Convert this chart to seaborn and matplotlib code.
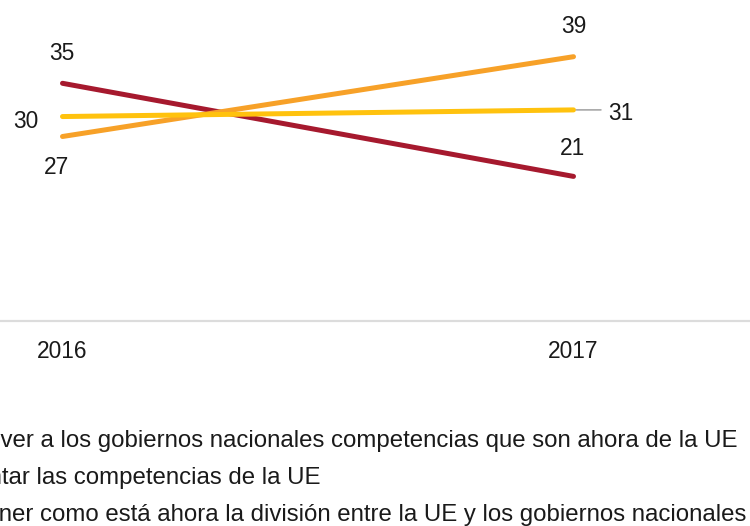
import matplotlib
matplotlib.use("Agg")
import matplotlib.pyplot as plt
import seaborn as sns
import pandas as pd

years = [2016, 2017]
series_names = [
    "Devolver a los gobiernos nacionales competencias que son ahora de la UE",
    "Aumentar las competencias de la UE",
    "Mantener como está ahora la división entre la UE y los gobiernos nacionales",
]
devolver = [35, 21]
aumentar = [27, 39]
mantener = [30, 31]
colors = ["#A6192E", "#F7A128", "#FFC20E"]

rows = []
for name, vals in zip(series_names, [devolver, aumentar, mantener]):
    for y, v in zip(years, vals):
        rows.append({"year": y, "value": v, "series": name})
df = pd.DataFrame(rows)

sns.set_theme(style="white")
plt.rcParams["font.family"] = ["Liberation Sans", "DejaVu Sans"]

W, H = 750, 526
fig = plt.figure(figsize=(W / 100, H / 100), dpi=100)
axis_px = 321
ax = fig.add_axes([0, (H - axis_px) / H, 1, axis_px / H])

sns.lineplot(data=df, x="year", y="value", hue="series", palette=colors,
             hue_order=series_names, linewidth=3.6, legend=False, ax=ax,
             solid_capstyle="round")

# pixel geometry: 2016 at x=62.5, 2017 at x=573.5; value 39 at y=56.7, 6.65 px/unit
pxy = 511.0
ax.set_xlim(2016 - 62.5 / pxy, 2016 + (W - 62.5) / pxy)
ppu = 6.65
ax.set_ylim(39 - (axis_px - 56.7) / ppu, 39 + 56.7 / ppu)
ax.set_yticks([])
ax.set_xticks(years)
tc = "#1a1a1a"
fs = 16.4
ax.set_xticklabels([str(y) for y in years], fontsize=fs, color=tc)
ax.tick_params(axis="x", length=0, pad=13.5)
ax.set_xlabel("")
ax.set_ylabel("")
for s in ["top", "left", "right"]:
    ax.spines[s].set_visible(False)
ax.spines["bottom"].set_color("#dcdcdc")
ax.spines["bottom"].set_linewidth(1.6)


def lab(x, v, dx, dy):
    ax.annotate(str(v), (x, v), xytext=(dx, dy), textcoords="offset pixels",
                ha="center", va="baseline", fontsize=fs, color=tc)


lab(years[0], devolver[0], -1, 23)
lab(years[0], mantener[0], -37, -11)
lab(years[0], aumentar[0], -6, -38)
lab(years[1], aumentar[1], 0, 23.4)
lab(years[1], mantener[1], 47, -10.5)
lab(years[1], devolver[1], -1, 21.4)

ax.annotate("", (years[1], mantener[1]), xytext=(years[1] + 27.5 / pxy, mantener[1]),
            arrowprops=dict(arrowstyle="-", color="#a0a0a0", lw=1.1,
                            shrinkA=0, shrinkB=2))

# legend text (clipped at left like the reference)
for name, ypx, xpx in zip(series_names, [447, 484, 521], [-61, -74, -68]):
    fig.text(xpx / W, 1 - ypx / H, name, ha="left", va="baseline",
             fontsize=17.3, color=tc)

fig.savefig("out.png", dpi=100)
